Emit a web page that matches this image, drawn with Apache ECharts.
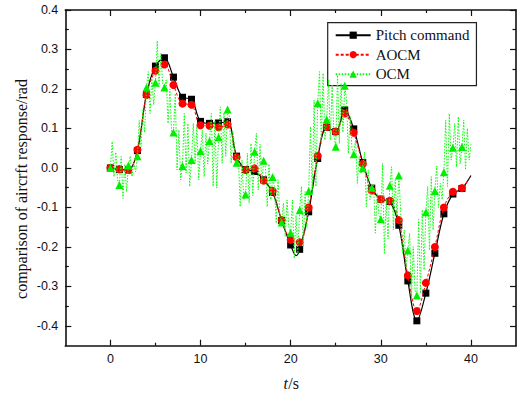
<!DOCTYPE html>
<html>
<head>
<meta charset="utf-8">
<script src="https://cdn.jsdelivr.net/npm/echarts@6/dist/echarts.min.js"></script>
<style>
  html, body { margin: 0; padding: 0; background: #fff; }
  #chart { width: 525px; height: 394px; }
</style>
</head>
<body>
<div id="chart"></div>
<script>
// Pitch command, sampled once per second from t = 0 to 40 s
const pitchCmd = [0.000, -0.004, -0.005, 0.044, 0.186, 0.258, 0.279, 0.230, 0.179, 0.174,
  0.118, 0.113, 0.114, 0.117, 0.030, -0.004, -0.009, -0.030, -0.062, -0.133,
  -0.195, -0.206, -0.111, 0.024, 0.103, 0.092, 0.147, 0.099, 0.014, -0.051,
  -0.079, -0.085, -0.145, -0.286, -0.387, -0.317, -0.216, -0.116, -0.066, -0.052,
  -0.019];
// extra sample at the bottom of the dip after 20 s
const pitchDip = [20.6, -0.222];

// AOCM response, once per second
const aocm = [0.000, -0.003, -0.005, 0.046, 0.185, 0.246, 0.262, 0.210, 0.163, 0.160,
  0.108, 0.107, 0.103, 0.110, 0.027, -0.005, -0.001, -0.032, -0.058, -0.132,
  -0.182, -0.188, -0.100, 0.031, 0.104, 0.092, 0.138, 0.089, 0.010, -0.057,
  -0.079, -0.083, -0.132, -0.272, -0.362, -0.291, -0.200, -0.100, -0.060, -0.051,
  -0.020];

// OCM response, every 0.2 s (one row per second)
const ocmStep = 0.2;
const ocm = [
  0.000, 0.067, -0.022, 0.040, -0.030,
  -0.043, 0.029, -0.077, 0.010, -0.060,
  0.006, 0.030, -0.022, 0.012, -0.010,
  0.030, 0.120, 0.054, 0.147, 0.090,
  0.203, 0.244, 0.138, 0.230, 0.160,
  0.216, 0.322, 0.206, 0.290, 0.215,
  0.204, 0.223, 0.113, 0.200, 0.088,
  0.090, 0.189, -0.005, 0.096, -0.030,
  0.005, 0.138, -0.013, 0.113, -0.047,
  0.020, 0.113, 0.012, 0.105, -0.030,
  0.043, 0.096, -0.022, 0.088, 0.010,
  0.068, 0.138, -0.047, 0.120, -0.051,
  0.078, 0.155, 0.012, 0.140, 0.030,
  0.148, 0.130, 0.012, 0.092, 0.040,
  0.013, 0.029, -0.098, 0.020, -0.081,
  -0.067, 0.037, -0.089, 0.062, -0.070,
  0.041, 0.088, -0.056, 0.060, -0.040,
  0.018, 0.003, -0.098, 0.010, -0.080,
  -0.023, -0.047, -0.140, -0.030, -0.120,
  -0.138, -0.089, -0.173, -0.081, -0.150,
  -0.164, -0.081, -0.229, -0.120, -0.216,
  -0.107, -0.047, -0.199, -0.060, -0.150,
  -0.058, 0.105, -0.064, 0.172, -0.047,
  0.164, 0.244, 0.062, 0.240, 0.071,
  0.123, 0.223, 0.071, 0.210, 0.080,
  0.054, 0.235, 0.062, 0.214, 0.090,
  0.208, 0.172, 0.037, 0.130, 0.050,
  0.035, 0.071, -0.039, 0.029, -0.014,
  -0.001, 0.040, -0.098, -0.005, -0.080,
  -0.050, -0.040, -0.165, -0.064, -0.120,
  -0.130, 0.012, -0.216, -0.080, -0.180,
  -0.045, 0.003, -0.157, -0.030, -0.120,
  -0.019, -0.106, -0.216, -0.157, -0.250,
  -0.209, -0.166, -0.334, -0.199, -0.310,
  -0.323, -0.130, -0.317, -0.106, -0.258,
  -0.112, -0.047, -0.208, -0.022, -0.157,
  -0.058, 0.005, -0.100, -0.039, -0.080,
  -0.011, 0.121, -0.047, 0.138, 0.020,
  0.051, 0.113, 0.003, 0.130, 0.010,
  0.053, 0.121, -0.005, 0.100, 0.020,
  0.060
];

// axis ticks
const xTicks = [0, 10, 20, 30, 40];
const xMinorTicks = [5, 15, 25, 35];
const yTicks = [-0.4, -0.3, -0.2, -0.1, 0.0, 0.1, 0.2, 0.3, 0.4];
const yMinorTicks = [-0.35, -0.25, -0.15, -0.05, 0.05, 0.15, 0.25, 0.35];

const lastMarkerT = 39;

// one marker per second, none on the final sample
function markedSeconds(values, symbol) {
  return values.map((v, i) => ({ value: [i, v], symbol: i <= lastMarkerT ? symbol : 'none' }));
}

const pitchData = markedSeconds(pitchCmd, 'rect');
pitchData.splice(21, 0, { value: pitchDip, symbol: 'none' });

const aocmData = markedSeconds(aocm, 'circle');

const ocmData = ocm.map((v, i) => {
  const t = +(i * ocmStep).toFixed(1);
  const onSecond = i % 5 === 0 && t <= lastMarkerT;
  return { value: [t, v], symbol: onSecond ? 'triangle' : 'none' };
});

const serif = '"Liberation Serif", "Times New Roman", serif';
const frame = { color: '#111', width: 1.6 };
const tickStyle = { color: '#111', width: 1.2 };
const labelFont = { fontFamily: 'Liberation Sans, Arial, sans-serif', fontSize: 12.5, color: '#111' };

function xAxisDef(position, ticks, len, withLine, withLabels) {
  return {
    type: 'value', position, min: -5, max: 45,
    axisLine: { show: withLine, onZero: false, lineStyle: frame },
    axisTick: { show: true, inside: true, length: len, customValues: ticks, lineStyle: tickStyle },
    axisLabel: withLabels
      ? Object.assign({ show: true, margin: 7, customValues: ticks }, labelFont)
      : { show: false },
    splitLine: { show: false }
  };
}
function yAxisDef(position, ticks, len, withLine, withLabels) {
  return {
    type: 'value', position, min: -0.45, max: 0.4,
    axisLine: { show: withLine, onZero: false, lineStyle: frame },
    axisTick: { show: true, inside: true, length: len, customValues: ticks, lineStyle: tickStyle },
    axisLabel: withLabels
      ? Object.assign({ show: true, margin: 7, customValues: ticks,
          formatter: v => Number(v).toFixed(1) }, labelFont)
      : { show: false },
    splitLine: { show: false }
  };
}

const chart = echarts.init(document.getElementById('chart'), null, { renderer: 'svg' });
chart.setOption({
  animation: false,
  backgroundColor: '#fff',
  grid: { left: 65.3, right: 9, top: 10, bottom: 48.3, containLabel: false },
  xAxis: [
    xAxisDef('bottom', xTicks, 6, true, true),
    xAxisDef('bottom', xMinorTicks, 3, false, false),
    xAxisDef('top', xTicks, 6, true, false),
    xAxisDef('top', xMinorTicks, 3, false, false)
  ],
  yAxis: [
    yAxisDef('left', yTicks, 6, true, true),
    yAxisDef('left', yMinorTicks, 3.5, false, false),
    yAxisDef('right', yTicks, 6, true, false),
    yAxisDef('right', yMinorTicks, 3.5, false, false)
  ],
  legend: {
    orient: 'vertical',
    left: 327.7, top: 22.7,
    padding: [5, 7, 4, 7],
    itemGap: 4.5,
    itemWidth: 35, itemHeight: 9,
    backgroundColor: '#fff',
    borderColor: '#222', borderWidth: 1.2,
    textStyle: { fontFamily: serif, fontSize: 15, color: '#111', lineHeight: 15 },
    data: ['Pitch command', 'AOCM', 'OCM']
  },
  graphic: [
    {
      type: 'text', x: 21.7, y: 189, rotation: Math.PI / 2,
      style: {
        text: 'comparison of aircrft response/rad',
        fontFamily: serif, fontSize: 16,
        fill: '#111', align: 'center', verticalAlign: 'middle'
      }
    },
    {
      type: 'text', x: 283.4, y: 383,
      style: {
        text: 't', fontFamily: serif, fontSize: 16, fontStyle: 'italic',
        fill: '#111', align: 'left', verticalAlign: 'middle'
      }
    },
    {
      type: 'text', x: 288.2, y: 383,
      style: {
        text: '/s', fontFamily: serif, fontSize: 16,
        fill: '#111', align: 'left', verticalAlign: 'middle'
      }
    }
  ],
  series: [
    {
      name: 'Pitch command', type: 'line', data: pitchData,
      smooth: 0.35, symbol: 'rect', symbolSize: 7,
      lineStyle: { color: '#000', width: 1.2, type: 'solid' },
      itemStyle: { color: '#000' }, z: 2
    },
    {
      name: 'AOCM', type: 'line', data: aocmData,
      smooth: 0.35, symbol: 'circle', symbolSize: 8,
      lineStyle: { color: '#ff0000', width: 1, type: [3, 2] },
      itemStyle: { color: '#ff0000' }, z: 3
    },
    {
      name: 'OCM', type: 'line', data: ocmData,
      symbol: 'triangle', symbolSize: 8,
      lineStyle: { color: '#00ff00', width: 1, type: [1.5, 1.5] },
      itemStyle: { color: '#00ee00' }, z: 4
    }
  ]
});
</script>
</body>
</html>
